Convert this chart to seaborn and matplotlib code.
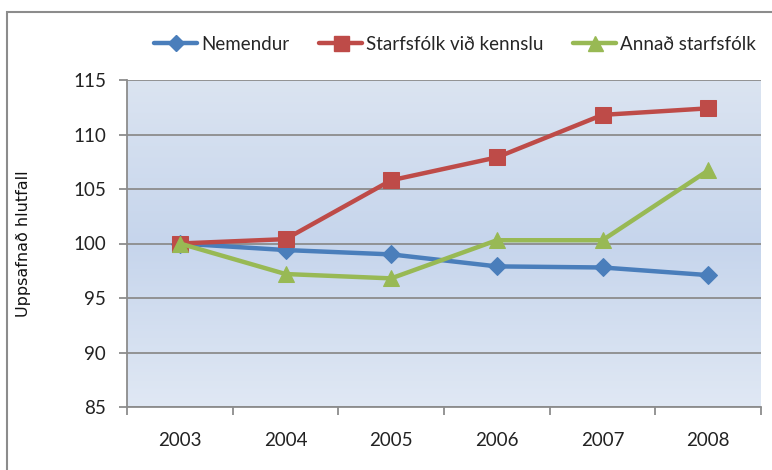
import numpy as np
import pandas as pd
import matplotlib
matplotlib.use("Agg")
import matplotlib.pyplot as plt
from matplotlib.colors import LinearSegmentedColormap
from matplotlib.patches import Rectangle
from matplotlib.lines import Line2D
import seaborn as sns

years = ["2003", "2004", "2005", "2006", "2007", "2008"]
nemendur = [100.0, 99.4, 99.0, 97.9, 97.8, 97.1]
starfsfolk_kennsla = [100.0, 100.4, 105.8, 107.9, 111.8, 112.4]
annad_starfsfolk = [100.0, 97.2, 96.8, 100.3, 100.3, 106.7]
series_names = ["Nemendur", "Starfsfólk við kennslu", "Annað starfsfólk"]
y_ticks = [85, 90, 95, 100, 105, 110, 115]
y_label = "Uppsafnað hlutfall"

colors = ["#4a7ebb", "#be4b48", "#98b954"]
markers = ["D", "s", "^"]
msizes = [9, 12, 12]

sns.set_theme(style="white")
plt.rcParams["font.family"] = ["Lato", "DejaVu Sans"]

fig = plt.figure(figsize=(7.72, 4.70), dpi=100)

# outer chart frame
fig.patches.append(Rectangle((7 / 772, -0.05), 1.2, (470 - 12) / 470 + 0.05,
                             transform=fig.transFigure, fill=False,
                             edgecolor="#8c8c8c", linewidth=1.5, zorder=0))

ax = fig.add_axes([127 / 772, (470 - 407) / 470, (761 - 127) / 772, (407 - 80) / 470])

# vertical gradient background
grad_cmap = LinearSegmentedColormap.from_list(
    "bg", [(0.0, "#e0e8f4"), (0.5, "#c6d5ec"), (1.0, "#dbe4f1")])
grad = np.linspace(0, 1, 256).reshape(-1, 1)
ax.imshow(grad, aspect="auto", cmap=grad_cmap, origin="lower",
          extent=[-0.5, 5.5, 85, 115], zorder=0)

df = pd.DataFrame({
    "x": list(range(len(years))) * 3,
    "value": nemendur + starfsfolk_kennsla + annad_starfsfolk,
    "series": sum([[n] * len(years) for n in series_names], []),
})

for name, col, mk, ms in zip(series_names, colors, markers, msizes):
    sub = df[df["series"] == name]
    sns.lineplot(data=sub, x="x", y="value", ax=ax, color=col, linewidth=3.2,
                 marker=mk, markersize=ms, markeredgecolor=col,
                 markerfacecolor=col, legend=False, zorder=3)

ax.set_xlim(-0.5, 5.5)
ax.set_ylim(85, 115)
ax.set_yticks(y_ticks)
ax.set_yticklabels([str(v) for v in y_ticks], fontsize=13.5, color="#222222")
ax.set_xticks(range(len(years)))
ax.set_xticklabels(years, fontsize=13.5, color="#222222")
ax.set_xticks(np.arange(-0.5, 6.0, 1.0), minor=True)
ax.tick_params(axis="x", which="major", length=0, pad=18)
ax.tick_params(axis="x", which="minor", length=6, width=1.3, color="#8c8c8c",
               direction="out", bottom=True)
ax.tick_params(axis="y", which="major", length=6, width=1.3, color="#8c8c8c",
               direction="out", left=True, pad=9)
ax.grid(axis="y", color="#8c8c8c", linewidth=1.3, zorder=1)
ax.set_axisbelow(True)
ax.set_xlabel("")
ax.set_ylabel(y_label, fontsize=11.5, family=["DejaVu Sans"], color="#111111", labelpad=30)

for side in ["top", "right"]:
    ax.spines[side].set_visible(False)
for side in ["left", "bottom"]:
    ax.spines[side].set_color("#8c8c8c")
    ax.spines[side].set_linewidth(1.3)

handles = [Line2D([0], [0], color=c, linewidth=3.2, marker=m, markersize=s * 0.9,
                  markeredgecolor=c, markerfacecolor=c)
           for c, m, s in zip(colors, markers, msizes)]
fig.legend(handles, series_names, loc="center", bbox_to_anchor=(455 / 772, 1 - 44 / 470),
           ncol=3, frameon=False, fontsize=13.5, handlelength=2.3, handletextpad=0.2,
           columnspacing=1.6)

fig.savefig("out.png", dpi=100)
